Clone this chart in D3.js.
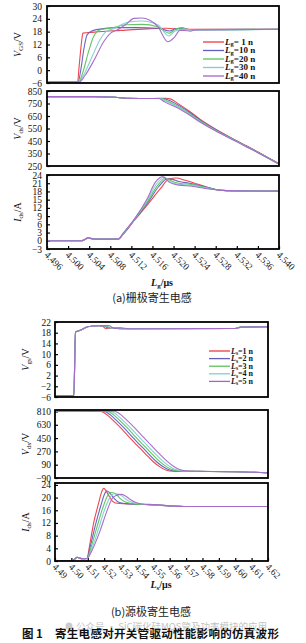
<!DOCTYPE html>
<html>
<head>
<meta charset="utf-8">
<script src="https://cdn.jsdelivr.net/npm/d3@7/dist/d3.min.js"></script>
<style>
  body { margin: 0; background: #fff; }
  svg { display: block; }
</style>
</head>
<body>
<div id="chart"></div>
<script>
// ---- data (t in µs) ----
var colors = ["#ee3b45", "#5f5fc0", "#5cc25c", "#7fcfd0", "#a565c8"];
var legendA = ["= 1 n", "=10 n", "=20 n", "=30 n", "=40 n"];
var legendB = ["=1 n", "=2 n", "=3 n", "=4 n", "=5 n"];

var ticksA_x = [4.496, 4.500, 4.504, 4.508, 4.512, 4.516, 4.520, 4.524, 4.528, 4.532, 4.536, 4.540];
var ticksB_x = [4.49, 4.50, 4.51, 4.52, 4.53, 4.54, 4.55, 4.56, 4.57, 4.58, 4.59, 4.60, 4.61, 4.62];
var ticksA_vgs = [-6, 0, 6, 12, 18, 24, 30];
var ticksA_vds = [250, 350, 450, 550, 650, 750, 850];
var ticksA_ids = [-3, 0, 3, 6, 9, 12, 15, 18, 21, 24];
var ticksB_vgs = [-6, -2, 2, 6, 10, 14, 18, 22];
var ticksB_vds = [-90, 90, 270, 450, 630, 810];
var ticksB_ids = [0, 4, 8, 12, 16, 20, 24];

// (a) gate inductance: V_GS
var aVgs = [
  [[4.496,-5.5],[4.5018,-5.5],[4.5021,2],[4.5025,12],[4.5028,17.3],[4.505,17.8],[4.51,18.6],[4.515,19.3],[4.5185,19.6],[4.5203,19.3],[4.5215,19.8],[4.523,19.1],[4.54,19.1]],
  [[4.496,-5.5],[4.5019,-5.5],[4.5024,0],[4.503,10],[4.5036,16.5],[4.5045,18.3],[4.506,19.2],[4.509,19.9],[4.513,19.9],[4.517,19.6],[4.5193,18.3],[4.5205,19.4],[4.5215,19.5],[4.523,19.0],[4.54,19.1]],
  [[4.496,-5.5],[4.502,-5.5],[4.5028,-1],[4.5038,8],[4.5048,15.5],[4.506,18.8],[4.508,19.6],[4.511,21.2],[4.514,21.4],[4.517,20.3],[4.5192,17.3],[4.5205,19.3],[4.5218,19.7],[4.523,18.9],[4.54,19.1]],
  [[4.496,-5.5],[4.502,-5.5],[4.503,-2],[4.5045,6],[4.506,14],[4.5072,18],[4.5085,19.3],[4.5115,22.5],[4.514,23],[4.517,21.2],[4.5191,16],[4.5203,18.3],[4.522,19.2],[4.5235,18.7],[4.54,19.1]],
  [[4.496,-5.5],[4.5021,-5.5],[4.5032,-2.5],[4.505,5],[4.5068,13.5],[4.508,17.2],[4.5095,19],[4.511,21.5],[4.5125,24.2],[4.514,24.4],[4.5155,23.3],[4.517,20.5],[4.5189,13.3],[4.5202,15.5],[4.5212,18.6],[4.522,18.6],[4.5232,18.2],[4.524,18.8],[4.54,19.1]]
];
// (a) V_ds
var aVds = [
  [[4.496,805],[4.505,805],[4.509,800],[4.511,792],[4.516,790],[4.5185,792],[4.5195,785],[4.521,745],[4.523,688],[4.525,625],[4.528,545],[4.532,452],[4.536,362],[4.54,268]],
  [[4.496,805],[4.505,805],[4.509,800],[4.511,792],[4.516,790],[4.518,790],[4.519,778],[4.521,735],[4.523,680],[4.525,618],[4.528,540],[4.532,449],[4.536,360],[4.54,267]],
  [[4.496,805],[4.505,805],[4.509,800],[4.511,792],[4.516,790],[4.5178,790],[4.5187,772],[4.521,725],[4.523,672],[4.525,612],[4.528,536],[4.532,447],[4.536,358],[4.54,266]],
  [[4.496,805],[4.505,805],[4.509,800],[4.511,792],[4.516,790],[4.5175,790],[4.5185,768],[4.521,718],[4.523,665],[4.525,607],[4.528,533],[4.532,445],[4.536,357],[4.54,266]],
  [[4.496,805],[4.505,805],[4.509,800],[4.511,792],[4.516,790],[4.5172,790],[4.5183,763],[4.521,710],[4.523,658],[4.525,602],[4.528,530],[4.532,443],[4.536,356],[4.54,265]]
];
// (a) I_ds
var aIds = [
  [[4.496,0],[4.5025,0],[4.5032,0.6],[4.5038,1.2],[4.5046,0.8],[4.506,0.6],[4.5095,0.6],[4.5105,2.5],[4.5125,7.3],[4.515,13],[4.5175,19],[4.5192,22.6],[4.5205,22.9],[4.522,22.2],[4.524,21],[4.526,19.8],[4.528,18.7],[4.53,18.3],[4.54,18.1]],
  [[4.496,0],[4.5025,0],[4.5032,0.5],[4.5038,1.0],[4.5046,0.7],[4.506,0.6],[4.5095,0.6],[4.5105,2.6],[4.5125,7.4],[4.515,13.6],[4.5172,19.8],[4.5188,22.6],[4.5198,22.4],[4.521,21.6],[4.523,21],[4.526,19.7],[4.528,18.7],[4.53,18.3],[4.54,18.1]],
  [[4.496,0],[4.5025,0],[4.5032,0.5],[4.5038,1.0],[4.5046,0.7],[4.506,0.6],[4.5095,0.6],[4.5105,2.7],[4.5125,7.5],[4.515,14.2],[4.517,20.2],[4.5185,22.9],[4.5195,21.9],[4.521,21],[4.5235,20.5],[4.526,19.5],[4.528,18.7],[4.53,18.3],[4.54,18.1]],
  [[4.496,0],[4.5025,0],[4.5032,0.5],[4.5038,1.0],[4.5046,0.7],[4.506,0.6],[4.5095,0.6],[4.5105,2.8],[4.5125,7.6],[4.515,14.8],[4.5168,20.8],[4.5182,23.1],[4.5192,21.6],[4.521,20.6],[4.5235,20.2],[4.526,19.3],[4.528,18.6],[4.53,18.3],[4.54,18.1]],
  [[4.496,0],[4.5025,0],[4.5032,0.5],[4.5038,1.0],[4.5046,0.7],[4.506,0.6],[4.5095,0.6],[4.5105,2.9],[4.5125,7.7],[4.515,15.3],[4.5165,21.2],[4.518,23.4],[4.5191,21.5],[4.521,20.3],[4.5235,19.9],[4.526,19.1],[4.528,18.6],[4.53,18.3],[4.54,18.1]]
];

// (b) source inductance: V_gs
var bVgs = [
  [[4.49,-5.5],[4.5015,-5.5],[4.5025,18.2],[4.505,18.8],[4.51,20.2],[4.513,20.5],[4.516,20.6],[4.519,20.4],[4.521,19.5],[4.523,19.8],[4.527,19.6],[4.535,19.5],[4.60,19.6],[4.6035,20.1],[4.62,20.2]],
  [[4.49,-5.5],[4.5015,-5.5],[4.5025,18.2],[4.505,18.8],[4.51,20.2],[4.513,20.5],[4.516,20.6],[4.52,20.5],[4.5225,19.8],[4.525,19.9],[4.53,19.5],[4.60,19.6],[4.6035,20.1],[4.62,20.2]],
  [[4.49,-5.5],[4.5015,-5.5],[4.5025,18.2],[4.505,18.8],[4.51,20.2],[4.513,20.5],[4.516,20.6],[4.521,20.6],[4.524,19.7],[4.527,19.9],[4.532,19.5],[4.60,19.6],[4.6035,20.1],[4.62,20.2]],
  [[4.49,-5.5],[4.5015,-5.5],[4.5025,18.2],[4.505,18.8],[4.51,20.2],[4.513,20.5],[4.516,20.6],[4.522,20.7],[4.525,19.6],[4.529,19.8],[4.533,19.5],[4.60,19.6],[4.6035,20.1],[4.62,20.2]],
  [[4.49,-5.5],[4.5015,-5.5],[4.5025,18.2],[4.505,18.8],[4.51,20.2],[4.513,20.5],[4.516,20.6],[4.523,20.7],[4.526,19.6],[4.53,19.8],[4.535,19.5],[4.60,19.6],[4.6035,20.1],[4.62,20.2]]
];
// (b) V_ds
var bVds = [
  [[4.49,815],[4.505,815],[4.512,812],[4.518,812],[4.5195,800],[4.522,760],[4.525,700],[4.53,590],[4.535,470],[4.54,355],[4.545,240],[4.55,130],[4.554,60],[4.558,15],[4.562,2],[4.57,0],[4.60,-5],[4.62,-20]],
  [[4.49,815],[4.505,815],[4.512,812],[4.52,812],[4.5215,800],[4.524,760],[4.527,700],[4.532,590],[4.537,470],[4.542,355],[4.547,240],[4.552,130],[4.556,62],[4.56,18],[4.564,3],[4.572,0],[4.60,-5],[4.62,-20]],
  [[4.49,815],[4.505,815],[4.512,812],[4.522,813],[4.5235,800],[4.526,760],[4.529,700],[4.534,590],[4.539,470],[4.544,355],[4.549,240],[4.554,132],[4.558,64],[4.562,20],[4.566,4],[4.574,0],[4.60,-5],[4.62,-20]],
  [[4.49,815],[4.505,815],[4.512,812],[4.524,813],[4.5255,800],[4.528,760],[4.531,700],[4.536,592],[4.541,472],[4.546,357],[4.551,242],[4.556,134],[4.56,66],[4.564,22],[4.568,5],[4.576,0],[4.60,-5],[4.62,-20]],
  [[4.49,815],[4.505,815],[4.512,812],[4.5265,814],[4.528,800],[4.5305,760],[4.5335,700],[4.5385,592],[4.5435,472],[4.5485,357],[4.5535,242],[4.5585,134],[4.5625,66],[4.5665,22],[4.5705,5],[4.578,0],[4.60,-5],[4.62,-20]]
];
// (b) I_ds
var bIds = [
  [[4.49,0],[4.5,0],[4.502,0.6],[4.5035,1.2],[4.505,0.9],[4.507,0.7],[4.5095,0.8],[4.511,4.5],[4.5135,11.8],[4.5165,18],[4.5185,21.8],[4.5198,22.9],[4.521,22.3],[4.523,20.5],[4.525,18.9],[4.528,18.2],[4.54,17.9],[4.55,17.7],[4.56,17.4],[4.57,17.2],[4.62,17.2]],
  [[4.49,0],[4.5,0],[4.502,0.6],[4.5035,1.2],[4.505,0.9],[4.507,0.7],[4.5095,0.8],[4.5115,4.5],[4.5145,11],[4.518,17.5],[4.5205,21.4],[4.5218,22.1],[4.5235,21.4],[4.526,19.8],[4.529,18.5],[4.533,18.1],[4.54,17.9],[4.55,17.7],[4.56,17.4],[4.57,17.2],[4.62,17.2]],
  [[4.49,0],[4.5,0],[4.502,0.6],[4.5035,1.2],[4.505,0.9],[4.507,0.7],[4.5095,0.8],[4.512,4.3],[4.5155,10.5],[4.519,16.5],[4.522,20.5],[4.524,21.6],[4.527,21.2],[4.53,19.6],[4.533,18.6],[4.537,18.1],[4.545,17.8],[4.555,17.6],[4.565,17.3],[4.57,17.2],[4.62,17.2]],
  [[4.49,0],[4.5,0],[4.502,0.6],[4.5035,1.2],[4.505,0.9],[4.507,0.7],[4.5095,0.8],[4.5125,4],[4.5165,10],[4.52,15.8],[4.5235,20],[4.526,21.2],[4.529,21.1],[4.532,20],[4.535,18.9],[4.539,18.2],[4.547,17.8],[4.557,17.5],[4.565,17.3],[4.57,17.2],[4.62,17.2]],
  [[4.49,0],[4.5,0],[4.502,0.6],[4.5035,1.2],[4.505,0.9],[4.507,0.7],[4.5095,0.8],[4.513,3.8],[4.5175,9.5],[4.5215,15.5],[4.525,19.8],[4.5275,20.7],[4.5305,21],[4.533,20.5],[4.536,19.4],[4.539,18.5],[4.543,18],[4.55,17.8],[4.56,17.4],[4.57,17.2],[4.62,17.2]]
];

var W = 306, H = 643;
var serif = "'Liberation Serif', 'DejaVu Serif', serif";
var cjk = "'Noto Sans CJK SC', sans-serif";

var svg = d3.select("#chart").append("svg")
    .attr("width", W)
    .attr("height", H);

var clipId = 0;

function panel(p) {
  var x = d3.scaleLinear().domain(p.xDomain).range([p.left, p.right]);
  var y = d3.scaleLinear().domain(p.yDomain).range([p.bottom, p.top]);
  var g = svg.append("g");

  var id = "clip" + (clipId++);
  svg.append("clipPath").attr("id", id)
    .append("rect")
      .attr("x", p.left).attr("y", p.top)
      .attr("width", p.right - p.left).attr("height", p.bottom - p.top);

  // left axis, ticks pointing inward
  var ay = g.append("g")
    .attr("transform", "translate(" + p.left + ",0)")
    .call(d3.axisLeft(y).tickValues(p.yTicks).tickSize(-3).tickPadding(p.yPad));
  ay.select(".domain").remove();
  ay.selectAll("line").attr("stroke", "#000").attr("stroke-width", 1.2);
  ay.selectAll("text").attr("font-family", serif).attr("font-size", 9.5).attr("fill", "#111");

  if (p.xTicks) {
    var ax = g.append("g")
      .attr("transform", "translate(0," + p.bottom + ")")
      .call(d3.axisBottom(x).tickValues(p.xTicks).tickSize(-3).tickFormat(d3.format(p.xFmt)));
    ax.select(".domain").remove();
    ax.selectAll("line").attr("stroke", "#000").attr("stroke-width", 1.2);
    ax.selectAll("text")
      .attr("font-family", serif).attr("font-size", 9.5)
      .attr("fill", "#222")
      .attr("text-anchor", "start")
      .attr("dy", null)
      .attr("y", 0).attr("x", 0)
      .attr("dominant-baseline", "middle")
      .attr("transform", "translate(-2,5) rotate(45)");
  }

  var line = d3.line()
    .x(function(d) { return x(d[0]); })
    .y(function(d) { return y(d[1]); })
    .curve(d3.curveMonotoneX);

  g.append("g").attr("clip-path", "url(#" + id + ")")
    .selectAll("path")
    .data(p.data)
    .enter()
    .append("path")
      .attr("d", line)
      .attr("fill", "none")
      .attr("stroke", function(d, i) { return colors[i]; })
      .attr("stroke-width", 1.1)
      .attr("stroke-opacity", 0.95);

  g.append("rect")
    .attr("x", p.left).attr("y", p.top)
    .attr("width", p.right - p.left).attr("height", p.bottom - p.top)
    .attr("fill", "none").attr("stroke", "#000").attr("stroke-width", 1.8);

  // rotated y label with subscript
  var t = g.append("text")
    .attr("transform", "translate(" + p.labelX + "," + ((p.top + p.bottom) / 2) + ") rotate(-90)")
    .attr("text-anchor", "middle")
    .attr("font-family", serif).attr("font-size", 10).attr("fill", "#111");
  t.append("tspan").attr("font-style", "italic").text(p.ySym);
  t.append("tspan").attr("font-size", 7).attr("dy", 2).text(p.ySub);
  t.append("tspan").attr("dy", -2).text(p.yUnit);

  return g;
}

function legend(lx, ly, step, sub, labels, fs) {
  labels.forEach(function(lab, i) {
    var yy = ly + i * step;
    svg.append("line")
      .attr("x1", lx).attr("x2", lx + 21)
      .attr("y1", yy).attr("y2", yy)
      .attr("stroke", colors[i]).attr("stroke-width", 1.3);
    var t = svg.append("text")
      .attr("x", lx + 22).attr("y", yy + 2.5)
      .attr("font-family", serif).attr("font-size", fs).attr("font-weight", "bold").attr("fill", "#111");
    t.append("tspan").attr("font-style", "italic").text("L");
    t.append("tspan").attr("font-size", fs - 2.5).attr("dy", 1.5).text(sub);
    t.append("tspan").attr("dy", -1.5).text(lab);
  });
}

function xLabel(cx, cy, sub) {
  var t = svg.append("text")
    .attr("x", cx).attr("y", cy)
    .attr("text-anchor", "middle")
    .attr("font-family", serif).attr("font-size", 10).attr("font-weight", "bold").attr("fill", "#111");
  t.append("tspan").attr("font-style", "italic").text("L");
  t.append("tspan").attr("font-size", 7).attr("dy", 2).text(sub);
  t.append("tspan").attr("dy", -2).text("/μs");
}

// ---- panel (a) ----
var dA = [4.496, 4.540];
panel({left: 47, right: 279, top: 6, bottom: 83, xDomain: dA, yDomain: [-6, 30], yTicks: ticksA_vgs, yPad: 5,
       data: aVgs, labelX: 21, ySym: "V", ySub: "GS", yUnit: "/V"});
panel({left: 47, right: 279, top: 91, bottom: 166, xDomain: dA, yDomain: [250, 850], yTicks: ticksA_vds, yPad: 5,
       data: aVds, labelX: 21, ySym: "V", ySub: "ds", yUnit: "/V"});
panel({left: 47, right: 279, top: 175, bottom: 249, xDomain: dA, yDomain: [-3, 24], yTicks: ticksA_ids, yPad: 5,
       data: aIds, labelX: 21, ySym: "I", ySub: "ds", yUnit: "/A", xTicks: ticksA_x, xFmt: ".3f"});
legend(203, 42, 8.5, "g", legendA, 9);
xLabel(162, 286, "g");

svg.append("text").attr("x", 152).attr("y", 302).attr("text-anchor", "middle")
  .attr("font-family", cjk).attr("font-size", 11).attr("fill", "#222").text("(a)栅极寄生电感");

// ---- panel (b) ----
var dB = [4.49, 4.62];
panel({left: 55, right: 268, top: 322, bottom: 397, xDomain: dB, yDomain: [-6, 22], yTicks: ticksB_vgs, yPad: 4,
       data: bVgs, labelX: 29, ySym: "V", ySub: "gs", yUnit: "/V"});
panel({left: 55, right: 268, top: 410, bottom: 478, xDomain: dB, yDomain: [-90, 830], yTicks: ticksB_vds, yPad: 4,
       data: bVds, labelX: 29, ySym: "V", ySub: "ds", yUnit: "/V"});
panel({left: 55, right: 268, top: 483, bottom: 561, xDomain: dB, yDomain: [0, 24.6], yTicks: ticksB_ids, yPad: 4,
       data: bIds, labelX: 29, ySym: "I", ySub: "ds", yUnit: "/A", xTicks: ticksB_x, xFmt: ".2f"});
legend(209, 351, 7.6, "s", legendB, 8);
xLabel(161, 588, "s");

svg.append("text").attr("x", 151).attr("y", 616).attr("text-anchor", "middle")
  .attr("font-family", cjk).attr("font-size", 11).attr("fill", "#222").text("(b)源极寄生电感");

// watermark
svg.append("circle").attr("cx", 69).attr("cy", 626).attr("r", 3.5).attr("fill", "#ccc");
svg.append("text").attr("x", 76).attr("y", 630)
  .attr("font-family", cjk).attr("font-size", 9.5).attr("fill", "#c4c4c4")
  .text("公众号 · SiC碳化硅MOS管及功率模块的应用");

// figure title
svg.append("text").attr("x", 22).attr("y", 638)
  .attr("font-family", cjk).attr("font-size", 11.5).attr("font-weight", "bold").attr("fill", "#111")
  .text("图 1");
svg.append("text").attr("x", 55).attr("y", 638)
  .attr("font-family", cjk).attr("font-size", 11.5).attr("font-weight", "bold").attr("fill", "#111")
  .attr("letter-spacing", 0.3)
  .text("寄生电感对开关管驱动性能影响的仿真波形");
</script>
</body>
</html>
